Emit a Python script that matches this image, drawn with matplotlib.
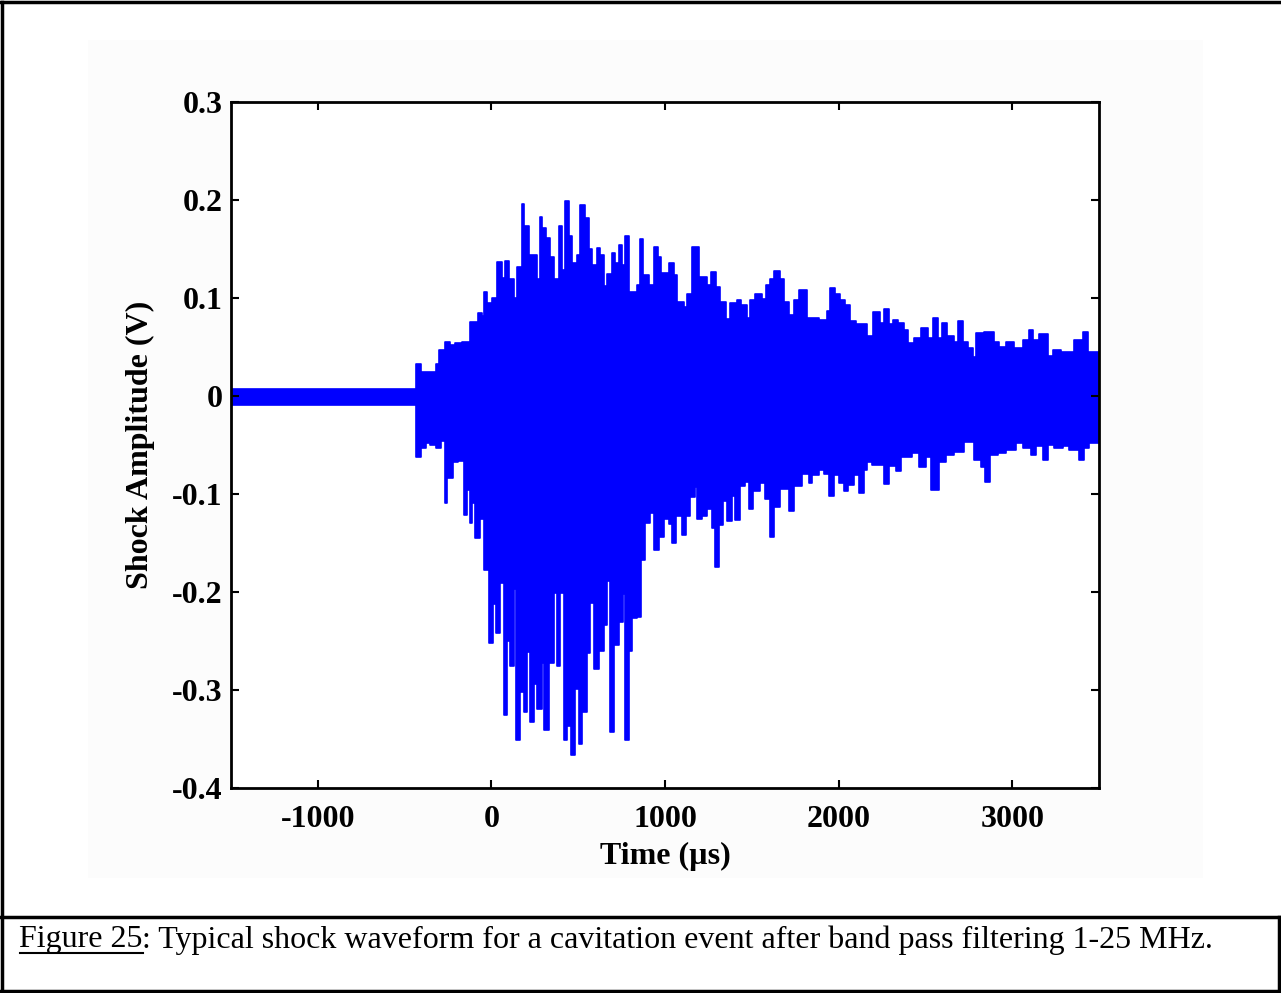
import matplotlib
matplotlib.use("Agg")
import matplotlib.pyplot as plt
from matplotlib.lines import Line2D
from matplotlib.patches import Rectangle

# upper envelope of the waveform: step start time (us) and peak value (V)
up_t = [-1500, -437, -408, -322, -299, -270, -241, -207, -167, -126, -80, -57, -40, -23,
        6, 34, 63, 80, 103, 132, 149, 178, 190, 218, 264, 282, 293, 316, 339, 362, 391,
        408, 425, 448, 466, 494, 511, 540, 563, 580, 609, 626, 649, 667, 695, 713, 736,
        753, 770, 793, 839, 856, 874, 908, 937, 960, 977, 1023, 1052, 1069, 1109, 1126,
        1155, 1195, 1241, 1264, 1293, 1316, 1351, 1374, 1414, 1437, 1471, 1488, 1517,
        1557, 1580, 1603, 1626, 1661, 1684, 1713, 1741, 1770, 1816, 1885, 1931, 1948,
        1977, 2006, 2034, 2063, 2103, 2161, 2201, 2236, 2264, 2293, 2316, 2345, 2374,
        2402, 2437, 2477, 2517, 2546, 2575, 2598, 2626, 2667, 2690, 2718, 2747, 2776,
        2793, 2839, 2897, 2925, 2966, 3011, 3063, 3098, 3121, 3155, 3207, 3236, 3282,
        3356, 3408, 3437, 3500]
up_v = [0.007, 0.033, 0.025, 0.033, 0.047, 0.055, 0.052, 0.054, 0.055, 0.076, 0.085, 0.082,
        0.106, 0.095, 0.100, 0.137, 0.120, 0.138, 0.119, 0.100, 0.132, 0.196, 0.173, 0.144,
        0.119, 0.183, 0.171, 0.161, 0.142, 0.119, 0.173, 0.129, 0.199, 0.163, 0.136, 0.144,
        0.195, 0.182, 0.150, 0.134, 0.151, 0.144, 0.112, 0.124, 0.146, 0.136, 0.154, 0.134,
        0.163, 0.106, 0.113, 0.160, 0.123, 0.113, 0.152, 0.142, 0.126, 0.136, 0.123, 0.096,
        0.091, 0.104, 0.152, 0.121, 0.113, 0.127, 0.111, 0.096, 0.079, 0.095, 0.098, 0.093,
        0.080, 0.098, 0.104, 0.099, 0.113, 0.119, 0.128, 0.119, 0.096, 0.083, 0.098, 0.108,
        0.080, 0.078, 0.087, 0.110, 0.104, 0.098, 0.093, 0.077, 0.073, 0.061, 0.086, 0.075,
        0.089, 0.073, 0.078, 0.074, 0.067, 0.054, 0.059, 0.069, 0.059, 0.080, 0.059, 0.075,
        0.061, 0.055, 0.077, 0.055, 0.049, 0.040, 0.064, 0.065, 0.055, 0.050, 0.055, 0.049,
        0.057, 0.067, 0.057, 0.063, 0.041, 0.047, 0.045, 0.057, 0.065, 0.045, 0.045]

# lower envelope of the waveform
lo_t = [-1500, -437, -408, -379, -351, -322, -293, -270, -253, -224, -195, -155, -138, -126,
        -109, -92, -63, -40, -11, 11, 29, 52, 75, 92, 109, 132, 144, 167, 190, 207, 224,
        247, 264, 293, 305, 333, 362, 379, 397, 420, 437, 460, 483, 506, 523, 552, 569,
        592, 621, 649, 667, 684, 707, 736, 759, 770, 793, 810, 839, 862, 885, 914, 937,
        966, 994, 1023, 1040, 1063, 1098, 1121, 1144, 1172, 1184, 1213, 1241, 1270, 1287,
        1310, 1333, 1356, 1385, 1402, 1431, 1460, 1483, 1506, 1546, 1575, 1603, 1626,
        1661, 1713, 1741, 1787, 1828, 1845, 1885, 1914, 1943, 1971, 2000, 2029, 2057,
        2086, 2115, 2144, 2161, 2190, 2259, 2293, 2333, 2362, 2420, 2466, 2506, 2534,
        2580, 2621, 2667, 2724, 2782, 2822, 2845, 2874, 2920, 2966, 3023, 3063, 3109,
        3138, 3178, 3207, 3241, 3293, 3327, 3385, 3414, 3442, 3500]
lo_v = [-0.009, -0.062, -0.053, -0.048, -0.050, -0.053, -0.046, -0.109, -0.084, -0.067,
        -0.066, -0.121, -0.096, -0.130, -0.109, -0.145, -0.125, -0.178, -0.252, -0.212,
        -0.242, -0.191, -0.325, -0.250, -0.276, -0.197, -0.351, -0.302, -0.322, -0.261,
        -0.333, -0.294, -0.319, -0.272, -0.341, -0.272, -0.201, -0.275, -0.201, -0.351,
        -0.337, -0.366, -0.299, -0.355, -0.322, -0.262, -0.211, -0.279, -0.260, -0.234,
        -0.189, -0.343, -0.254, -0.231, -0.202, -0.351, -0.260, -0.227, -0.225, -0.167,
        -0.130, -0.119, -0.157, -0.144, -0.125, -0.131, -0.150, -0.122, -0.142, -0.122,
        -0.103, -0.093, -0.125, -0.122, -0.115, -0.135, -0.174, -0.132, -0.107, -0.128,
        -0.102, -0.127, -0.092, -0.088, -0.115, -0.097, -0.089, -0.105, -0.144, -0.113,
        -0.095, -0.117, -0.092, -0.080, -0.089, -0.081, -0.075, -0.080, -0.102, -0.081,
        -0.089, -0.097, -0.091, -0.081, -0.099, -0.075, -0.067, -0.070, -0.090, -0.071,
        -0.077, -0.062, -0.058, -0.072, -0.062, -0.096, -0.067, -0.060, -0.057, -0.047,
        -0.065, -0.072, -0.088, -0.060, -0.058, -0.055, -0.048, -0.053, -0.060, -0.051,
        -0.065, -0.050, -0.053, -0.051, -0.055, -0.065, -0.053, -0.048, -0.048]

x_ticks = [-1000, 0, 1000, 2000, 3000]
y_ticks = [-0.4, -0.3, -0.2, -0.1, 0, 0.1, 0.2, 0.3]
y_ticklabels = ["-0.4", "-0.3", "-0.2", "-0.1", "0", "0.1", "0.2", "0.3"]

caption_head = "Figure 25"
caption_rest = ": Typical shock waveform for a cavitation event after band pass filtering 1-25 MHz."

plt.rcParams['font.family'] = ['Liberation Serif', 'DejaVu Serif']

W, H = 1281, 993
fig = plt.figure(figsize=(W / 100, H / 100), dpi=100)

# faint grey backdrop of the pasted figure
fig.patches.append(Rectangle((88 / W, 1 - 878 / H), (1203 - 88) / W, (878 - 40) / H,
                             transform=fig.transFigure, facecolor="#fcfcfc",
                             edgecolor="none", zorder=-10))

ax = fig.add_axes([231 / W, 1 - 788 / H, (1099 - 231) / W, (788 - 102) / H], zorder=5)
ax.fill_between(up_t, 0, up_v, step="post", color="#0000ff", linewidth=1.2, edgecolor="#0000ff")
ax.fill_between(lo_t, lo_v, 0, step="post", color="#0000ff", linewidth=1.2, edgecolor="#0000ff")

ax.set_xlim(-1500, 3500)
ax.set_ylim(-0.4, 0.3)
ax.set_xticks(x_ticks)
ax.set_xticklabels([str(v) for v in x_ticks])
ax.set_yticks(y_ticks)
ax.set_yticklabels(y_ticklabels)
ax.tick_params(direction="in", length=6, width=1.5, top=True, right=True,
               labelsize=23)
ax.tick_params(axis="x", pad=12)
ax.tick_params(axis="y", pad=6)
for lab in ax.get_xticklabels() + ax.get_yticklabels():
    lab.set_fontweight("bold")
for s in ax.spines.values():
    s.set_linewidth(2)
ax.set_xlabel("Time (\u00b5s)", fontsize=23, fontweight="bold", labelpad=6)
ax.set_ylabel("Shock Amplitude (V)", fontsize=23, fontweight="bold", labelpad=12)

# page borders around figure and caption
def hline(y, x0=0, x1=W):
    fig.add_artist(Line2D([x0 / W, x1 / W], [1 - y / H, 1 - y / H], color="black", lw=2.5))

def vline(x, y0, y1):
    fig.add_artist(Line2D([x / W, x / W], [1 - y0 / H, 1 - y1 / H], color="black", lw=2.5))

hline(2)
hline(917)
hline(991)
vline(2, 2, 991)
vline(1279, 917, 991)

# caption with underlined figure number
t1 = fig.text(19 / W, 1 - 940 / H, caption_head, fontsize=23, va="center", ha="left")
fig.canvas.draw()
bb = t1.get_window_extent(fig.canvas.get_renderer())
fig.text(bb.x1 / W, 1 - 940 / H, caption_rest, fontsize=23, va="center", ha="left")
fig.add_artist(Line2D([(bb.x0 + 1) / W, bb.x1 / W], [(bb.y0 + 2) / H, (bb.y0 + 2) / H],
                      color="black", lw=1.5))

fig.savefig("out.png", dpi=100)
